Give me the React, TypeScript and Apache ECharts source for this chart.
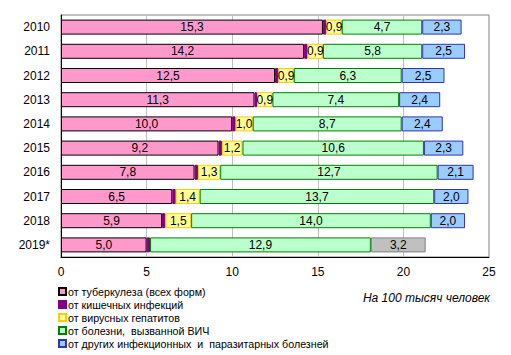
import React, { useEffect, useRef } from "react";
import * as echarts from "echarts";

const years = ["2010", "2011", "2012", "2013", "2014", "2015", "2016", "2017", "2018", "2019*"];
const tuberculosis = [15.3, 14.2, 12.5, 11.3, 10.0, 9.2, 7.8, 6.5, 5.9, 5.0];
const intestinal = [0.2, 0.2, 0.2, 0.15, 0.2, 0.2, 0.2, 0.2, 0.2, 0.2];
const hepatitis: (number | null)[] = [0.9, 0.9, 0.9, 0.9, 1.0, 1.2, 1.3, 1.4, 1.5, null];
const hiv = [4.7, 5.8, 6.3, 7.4, 8.7, 10.6, 12.7, 13.7, 14.0, 12.9];
const other = [2.3, 2.5, 2.5, 2.4, 2.4, 2.3, 2.1, 2.0, 2.0, 3.2];
const seriesNames = [
  "от туберкулеза (всех форм)",
  "от кишечных инфекций",
  "от вирусных гепатитов",
  "от болезни,  вызванной ВИЧ",
  "от других инфекционных  и  паразитарных болезней",
];
const xTicks = [0, 5, 10, 15, 20, 25];

const FONT = "'Liberation Sans', Arial, sans-serif";
const fmt = (v: number) => v.toFixed(1).replace(".", ",");

export default function App() {
  const ref = useRef<HTMLDivElement>(null);
  useEffect(() => {
    if (!ref.current) return;
    const chart = echarts.init(ref.current, undefined, { renderer: "svg" });
    const label = {
      show: true,
      position: "inside" as const,
      color: "#000",
      fontSize: 12,
      fontFamily: FONT,
      formatter: (p: any) => (p.value == null ? "" : fmt(p.value)),
    };
    const mk = (name: string, data: any[], color: string, border: string, showLabel = true) => ({
      name,
      type: "bar" as const,
      stack: "s",
      data,
      barCategoryGap: "38%",
      itemStyle: { color, borderColor: border, borderWidth: 1 },
      label: showLabel ? label : { show: false },
    });
    const otherData = other.map((v, i) =>
      years[i] === "2019*"
        ? { value: v, itemStyle: { color: "#C0C0C0", borderColor: "#808080" } }
        : v
    );
    chart.setOption({
      animation: false,
      textStyle: { fontFamily: FONT },
      grid: { left: 61, right: 22, top: 15, bottom: 98, show: true, borderColor: "#808080", borderWidth: 1 },
      xAxis: {
        type: "value",
        min: 0,
        max: 25,
        interval: 5,
        axisLine: { show: true, lineStyle: { color: "#000" } },
        axisTick: { show: false },
        splitLine: { show: true, lineStyle: { color: "#C0C0C0" } },
        axisLabel: { color: "#000", fontSize: 12, margin: 9, fontFamily: FONT, formatter: (v: number) => (xTicks.includes(v) ? String(v) : "") },
      },
      yAxis: {
        type: "category",
        data: years,
        inverse: true,
        axisLine: { show: true, lineStyle: { color: "#000" } },
        axisTick: { show: false },
        axisLabel: { color: "#000", fontSize: 12, margin: 11, fontFamily: FONT },
      },
      legend: {
        orient: "vertical",
        left: 58,
        top: 285,
        height: 80,
        padding: 0,
        icon: "rect",
        itemWidth: 7,
        itemHeight: 7,
        itemGap: 0,
        textStyle: { fontSize: 10.7, lineHeight: 13, color: "#000", fontFamily: FONT, padding: [0, 0, 0, -3] },
        data: seriesNames,
      },
      graphic: [
        {
          type: "text",
          right: 21,
          top: 292,
          style: { text: "На 100 тысяч человек", font: `italic 12px ${FONT}`, fill: "#000" },
        },
      ],
      series: [
        mk(seriesNames[0], tuberculosis, "#FF99CC", "#000000"),
        mk(seriesNames[1], intestinal, "#800080", "#800080", false),
        mk(seriesNames[2], hepatitis, "#FFFF99", "#FFCC00"),
        mk(seriesNames[3], hiv, "#BBFFCC", "#008000"),
        mk(seriesNames[4], otherData, "#99CCFF", "#3333AA"),
      ],
    });
    return () => chart.dispose();
  }, []);
  return <div ref={ref} style={{ width: 511, height: 355, position: "absolute", left: 0, top: 0 }} />;
}
